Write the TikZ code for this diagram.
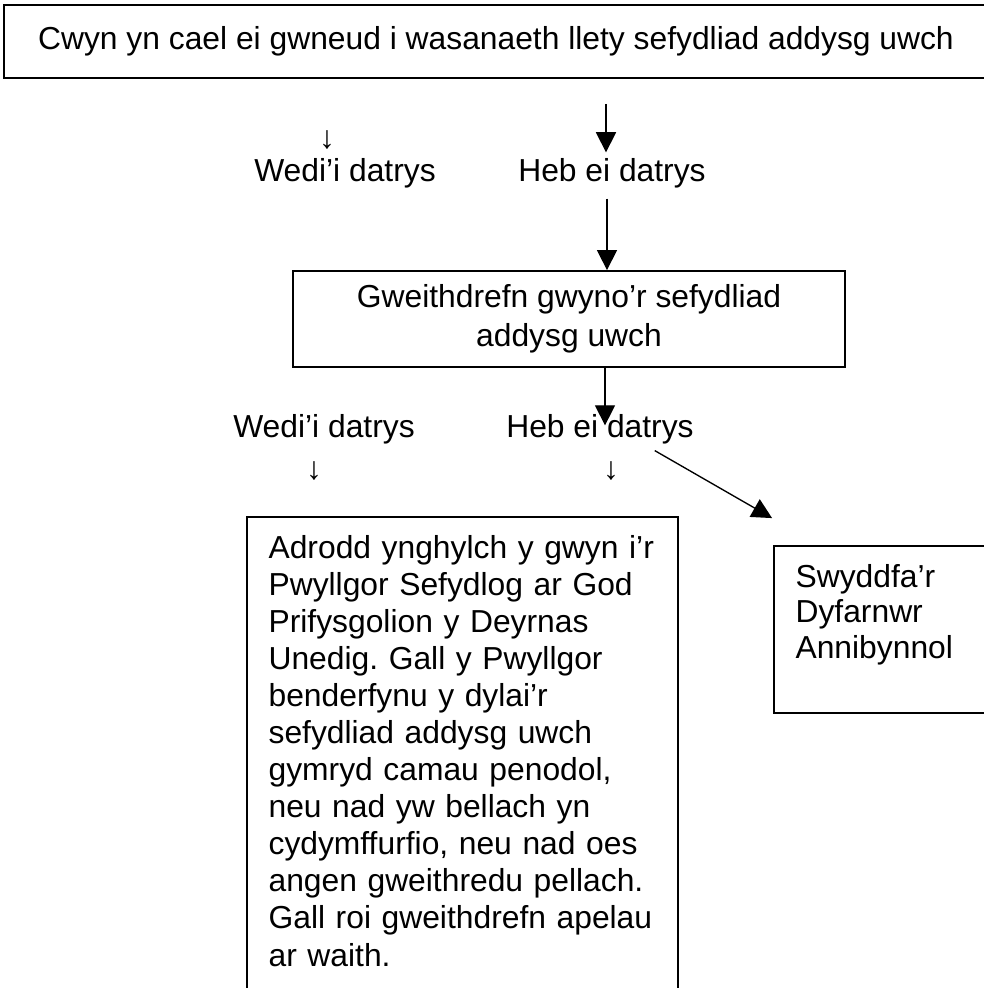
\documentclass[tikz,border=0pt]{standalone}
\usepackage{fontspec}
\setmainfont{Liberation Sans}
\usetikzlibrary{arrows.meta}
\frenchspacing

\begin{document}
\begin{tikzpicture}[x = 0.3333pt, y = -0.3333pt,
		every node/.style = {inner sep = 0pt, font = \fontsize{10.6pt}{13pt}\selectfont},
		panel/.style = {draw, line width = 0.6pt},
		lbl/.style = {anchor = base},
		flow/.style = {-{Triangle[width = 6.7pt, length = 6.7pt]}, line width = 0.45pt}]
		\useasboundingbox (0, 0) rectangle (984, 988);
		%%%%%%%%%%%%%
		\node[panel, minimum width = 328pt, minimum height = 24.33pt] (complaint) at (496, 41.5) {Cwyn yn cael ei gwneud i wasanaeth llety sefydliad addysg uwch};
		\node (downA) at (327, 140) {↓};
		\node[lbl] (solvedA) at (345, 181) {Wedi’i datrys};
		\node[lbl] (unsolvedA) at (612, 181) {Heb ei datrys};
		\node[panel, align = center, minimum width = 184pt, minimum height = 32pt] (procedure) at (569, 319) {Gweithdrefn gwyno’r sefydliad\\addysg uwch};
		\node[lbl] (solvedB) at (324, 437) {Wedi’i datrys};
		\node[lbl] (unsolvedB) at (600, 437) {Heb ei datrys};
		\node (downB) at (314, 471) {↓};
		\node (downC) at (611, 471) {↓};
		%%%%%%%%%%%%%
		\node[panel, minimum width = 143.67pt, minimum height = 161pt] (reportbox) at (462.5, 758.5) {};
		\node[anchor = north west, text width = 130pt, align = left, font = \fontsize{10.6pt}{12.36pt}\selectfont] (report) at (268, 534.5) {Adrodd ynghylch y gwyn i’r\\Pwyllgor Sefydlog ar God\\Prifysgolion y Deyrnas\\Unedig. Gall y Pwyllgor\\benderfynu y dylai’r\\sefydliad addysg uwch\\gymryd camau penodol,\\neu nad yw bellach yn\\cydymffurfio, neu nad oes\\angen gweithredu pellach.\\Gall roi gweithdrefn apelau\\ar waith.};
		\node[panel, minimum width = 75.33pt, minimum height = 55.67pt] (adjudbox) at (887, 629.5) {};
		\node[anchor = north west, text width = 60pt, align = left, font = \fontsize{10.6pt}{11.9pt}\selectfont] (adjud) at (795, 563.5) {Swyddfa’r\\Dyfarnwr\\Annibynnol};
		%%%%%%%%%%%%%
		\coordinate (tipA) at ([xshift = -2pt, yshift = 1.67pt]unsolvedA.north);
		\coordinate (tipB) at ([xshift = 1.67pt, yshift = -4pt]unsolvedB.north);
		\draw[flow, shorten <= 8.3pt] (complaint.south -| tipA) to (tipA);
		\draw[flow, shorten <= 3.5pt] ([xshift = -1.67pt]unsolvedA.south) to ([xshift = -1.67pt]unsolvedA.south |- procedure.north);
		\draw[flow] (procedure.south -| tipB) to (tipB);
		\draw[flow] ([shift = {(-39.5, 6.4)}]unsolvedB.south east) to ([shift = {(-1, -27)}]adjudbox.north west);
\end{tikzpicture}
\end{document}
